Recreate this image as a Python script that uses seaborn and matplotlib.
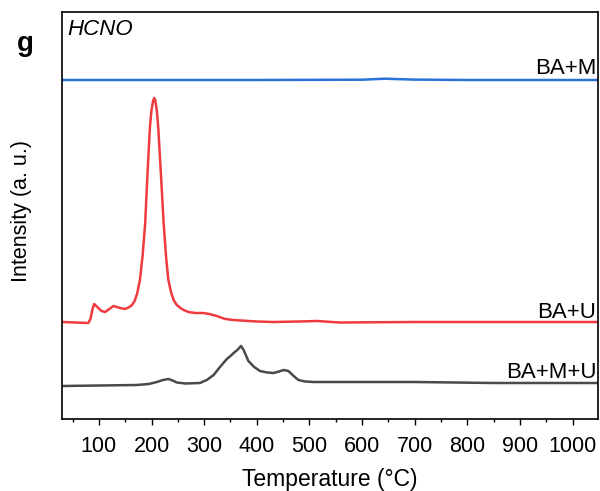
import matplotlib
matplotlib.use("Agg")
import matplotlib.pyplot as plt
import seaborn as sns
import pandas as pd
from matplotlib.ticker import MultipleLocator

# temperature (C) and offset intensity (a. u.)
t_bam = [30, 200, 400, 600, 630, 645, 660, 700, 800, 1050]
i_bam = [339, 339, 339, 339.3, 340, 340.3, 340, 339.4, 339, 339]

t_bau = [30, 80, 84, 88, 91, 95, 99, 105, 112, 120, 128, 140, 150, 158,
         163, 168, 173, 178, 183, 188, 191, 194, 197, 200, 203, 205, 207,
         210, 213, 216, 220, 223, 228, 232, 237, 242, 248, 255, 261, 270,
         283, 298, 310, 324, 340, 355, 400, 431, 480, 514, 558, 700, 900, 1050]
i_bau = [97, 96, 100, 110, 115, 113, 111, 108, 107, 110, 113, 111, 110, 112,
         114, 118, 126, 139, 163, 196, 230, 262, 292, 309, 318, 321, 319,
         309, 290, 262, 225, 196, 160, 139, 127, 119, 114, 111, 109, 107,
         106, 106, 105, 103, 100, 99, 97.5, 97, 97.5, 98, 96.5, 97, 97, 97]

t_bamu = [30, 172, 195, 210, 222, 232, 240, 248, 265, 292, 305, 318, 330,
          343, 350, 356, 363, 370, 375, 384, 395, 406, 420, 432, 442, 451,
          460, 470, 479, 492, 508, 558, 700, 850, 1050]
i_bamu = [33, 34, 35, 37, 39, 40, 38.5, 36.5, 35.5, 36, 39, 44, 52,
          60, 63, 66, 69, 73, 69, 58, 52, 48, 46.5, 46, 47.5, 49,
          48, 43, 39, 37.5, 37, 37, 37, 36, 36]

series = ["BA+M", "BA+U", "BA+M+U"]
colors = {"BA+M": "#2a72d8", "BA+U": "#ee3b3f", "BA+M+U": "#4a4a4a"}
label_y = [340, 96, 36]

rows = []
for name, ts, vs in [("BA+M", t_bam, i_bam), ("BA+U", t_bau, i_bau),
                     ("BA+M+U", t_bamu, i_bamu)]:
    for t, v in zip(ts, vs):
        rows.append({"T": t, "I": v, "Sample": name})
df = pd.DataFrame(rows)

sns.set_style("white")
plt.rcParams["font.family"] = ["Liberation Sans", "DejaVu Sans"]
plt.rcParams["text.color"] = "black"
plt.rcParams["axes.labelcolor"] = "black"
plt.rcParams["xtick.color"] = "black"

fig = plt.figure(figsize=(6, 4.91), dpi=100)
ax = fig.add_axes([62 / 600, 1 - 419 / 491, 536 / 600, 407 / 491])

sns.lineplot(data=df, x="T", y="I", hue="Sample", palette=colors,
             linewidth=1.8, legend=False, ax=ax, sort=False)

ax.set_xlim(30, 1048)
ax.set_ylim(0, 407)
ax.set_yticks([])
ax.xaxis.set_minor_locator(MultipleLocator(50))
ax.set_xticks(range(100, 1001, 100))
ax.tick_params(axis="x", which="major", direction="out", length=4, width=1,
               labelsize=15.5, bottom=True, pad=8)
ax.tick_params(axis="x", which="minor", direction="out", length=2.5, width=1,
               bottom=True)
for sp in ax.spines.values():
    sp.set_color("black")
    sp.set_linewidth(1.2)

ax.set_xlabel("Temperature (°C)", fontsize=16.5, labelpad=8)
ax.set_ylabel("Intensity (a. u.)", fontsize=15.5)
ax.yaxis.set_label_coords(-0.056, 0.51)

for name, y in zip(series, label_y):
    ax.text(1045, y, name, ha="right", va="bottom", fontsize=16)

ax.text(0.01, 0.982, "HCNO", transform=ax.transAxes, ha="left", va="top",
        fontsize=16, style="italic")
fig.text(25 / 600, 1 - 44 / 491, "g", fontsize=20, fontweight="bold",
         ha="center", va="center")

fig.savefig("out.png", dpi=100)
